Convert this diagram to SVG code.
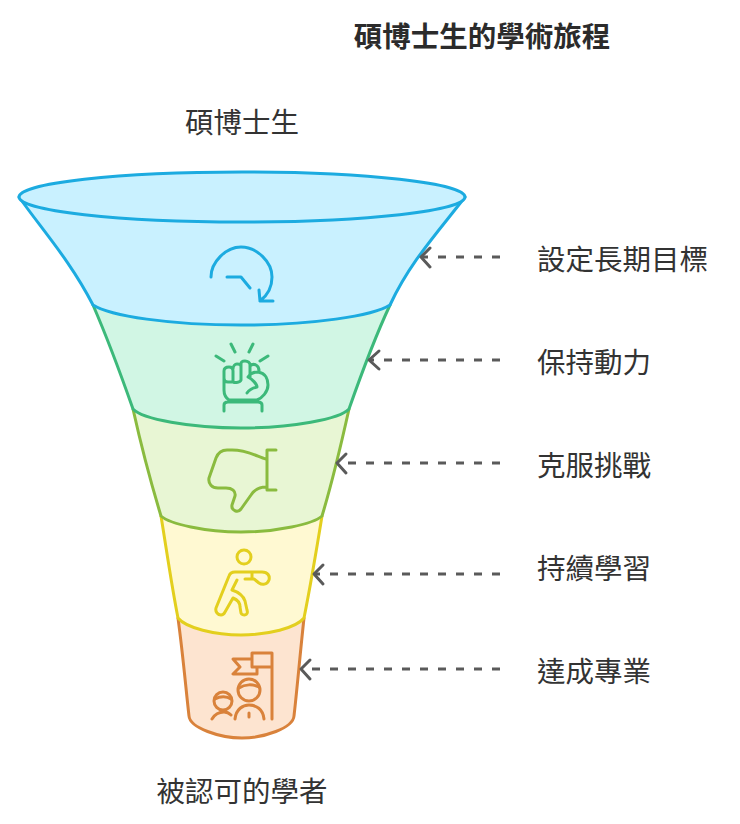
<svg xmlns="http://www.w3.org/2000/svg" width="740" height="824" viewBox="0 0 740 824">
<style>
text{font-family:"Liberation Sans","Noto Sans CJK TC",sans-serif;font-size:28.5px;fill:#333}
.t{font-weight:700;fill:#2b2b2b}
.m{text-anchor:middle}
.b{stroke-width:3;stroke-linejoin:round;stroke-linecap:round}
.i{fill:none;stroke-width:3;stroke-linecap:round;stroke-linejoin:round}
.a{fill:none;stroke:#5a5a5a;stroke-width:3;stroke-linecap:round;stroke-linejoin:round}
.d{stroke-dasharray:8 10;stroke-linecap:butt}
</style>
<rect width="740" height="824" fill="#fff"/>
<text class="t m" x="482" y="47">碩博士生的學術旅程</text>
<text class="m" x="242" y="133">碩博士生</text>
<text class="m" x="242" y="802">被認可的學者</text>
<g id="stage5">
<path class="b" fill="#fde4d0" stroke="#d9823b" d="M178 618C183 655 186 690 189 716C190 728 220 738 242 738C264 738 293 728 294 716C297 690 300 655 304 618Z"/>
<path class="i" stroke="#d9823b" d="M272 719V653H252V667H272M252 659H233L240 667L233 674H257V667M212 719C215 714 220 712 224 712C227 712 229 713 231 715M235 719C236 709 243 705 249 705C256 705 263 709 264 719M249 713V717"/>
<circle class="i" stroke="#d9823b" cx="249" cy="690" r="11"/>
<circle class="i" stroke="#d9823b" cx="223" cy="701" r="9"/>
<path class="i" stroke="#d9823b" d="M239 688C245 684 253 684 259 687M215 699C220 696 227 696 231 699"/>
</g>
<g id="stage4">
<path class="b" fill="#fff9d2" stroke="#e3cf1e" d="M161 516C167 553 172 588 178 618C186 628 215 635 241 635C268 635 296 628 304 618C310 588 316 553 322 516Z"/>
<circle class="i" stroke="#e3cf1e" cx="244" cy="557" r="7"/>
<path class="i" stroke="#e3cf1e" d="M254 572H235C232 572 230 573 229 576L216 608C215 612 218 615 221 615C223 615 224 614 225 612L233 598C238 600 240 603 240 607L241 613C242 616 249 616 247 610L245 601C243 595 238 592 232 590L237 580M254 572H262C268 572 270 576 269 580C267 585 262 585 259 583L254 579H245M252 572V579"/>
</g>
<g id="stage3">
<path class="b" fill="#e8f6d4" stroke="#8abb3f" d="M133 409C141 445 151 483 161 516C170 524 205 532 241 532C277 532 313 524 322 516C332 483 341 445 349 409Z"/>
<path class="i" stroke="#8abb3f" d="M276 450H267V490H276M266 459C258 457 248 450 232 450H227C221 450 218 453 216 458L209 478C208 484 212 488 218 488H226C232 488 236 491 235 496L232 505C231 511 238 513 241 509L251 495C255 489 260 487 266 487"/>
</g>
<g id="stage2">
<path class="b" fill="#d1f6e4" stroke="#3cb97a" d="M93 305C106 335 120 372 133 409C142 419 190 428 241 428C292 428 340 419 349 409C362 372 376 335 390 305Z"/>
<path class="i" stroke="#3cb97a" d="M216 356L224 361M231 344L235 352M253 344L249 352M268 356L260 361M233 382H228C225 382 224 380 224 378V371C224 368 226 367 229 367C231 367 233 368 233 371V382C233 383 240 383 241 380V367C241 364 239 364 237 364C235 364 233 366 233 369M241 367V364C241 361 243 361 245 361C248 361 250 363 250 365V377M250 366C252 364 254 364 256 365C258 366 259 368 259 371M224 378V390C224 394 226 398 229 400H257C262 398 268 392 268 385C268 380 266 373 258 372C254 372 250 374 248 377C252 379 257 384 257 387C252 388 249 390 247 393M224 411V405C224 403 226 402 228 402H258C260 402 262 403 262 405V411"/>
</g>
<g id="stage1">
<path class="b" fill="#c9f1ff" stroke="#1cabe0" d="M19 197C44 232 71 262 93 305C110 316 170 325 241 325C312 325 373 316 390 305C410 262 438 232 465 197Z"/>
<ellipse class="b" fill="#c9f1ff" stroke="#1cabe0" cx="242" cy="197" rx="223" ry="25"/>
<path class="i" stroke="#1cabe0" d="M211 277C211 262 226 247 241 247C257 247 272 262 272 277C272 286 268 295 260 301M227 277H241L250 288M259 290L260 301H273"/>
</g>
<g id="connectors">
<path class="a d" d="M500 257H422"/><path class="a" d="M430 248L421 257L430 267"/>
<path class="a d" d="M500 360H370"/><path class="a" d="M379 351L369 360L379 369"/>
<path class="a d" d="M500 463H338"/><path class="a" d="M346 454L337 463L346 473"/>
<path class="a d" d="M500 574H315"/><path class="a" d="M323 565L314 574L323 584"/>
<path class="a d" d="M500 669H302"/><path class="a" d="M310 660L301 669L310 679"/>
</g>
<text x="537" y="270">設定長期目標</text>
<text x="537" y="373">保持動力</text>
<text x="537" y="476">克服挑戰</text>
<text x="537" y="579">持續學習</text>
<text x="537" y="682">達成專業</text>
</svg>
